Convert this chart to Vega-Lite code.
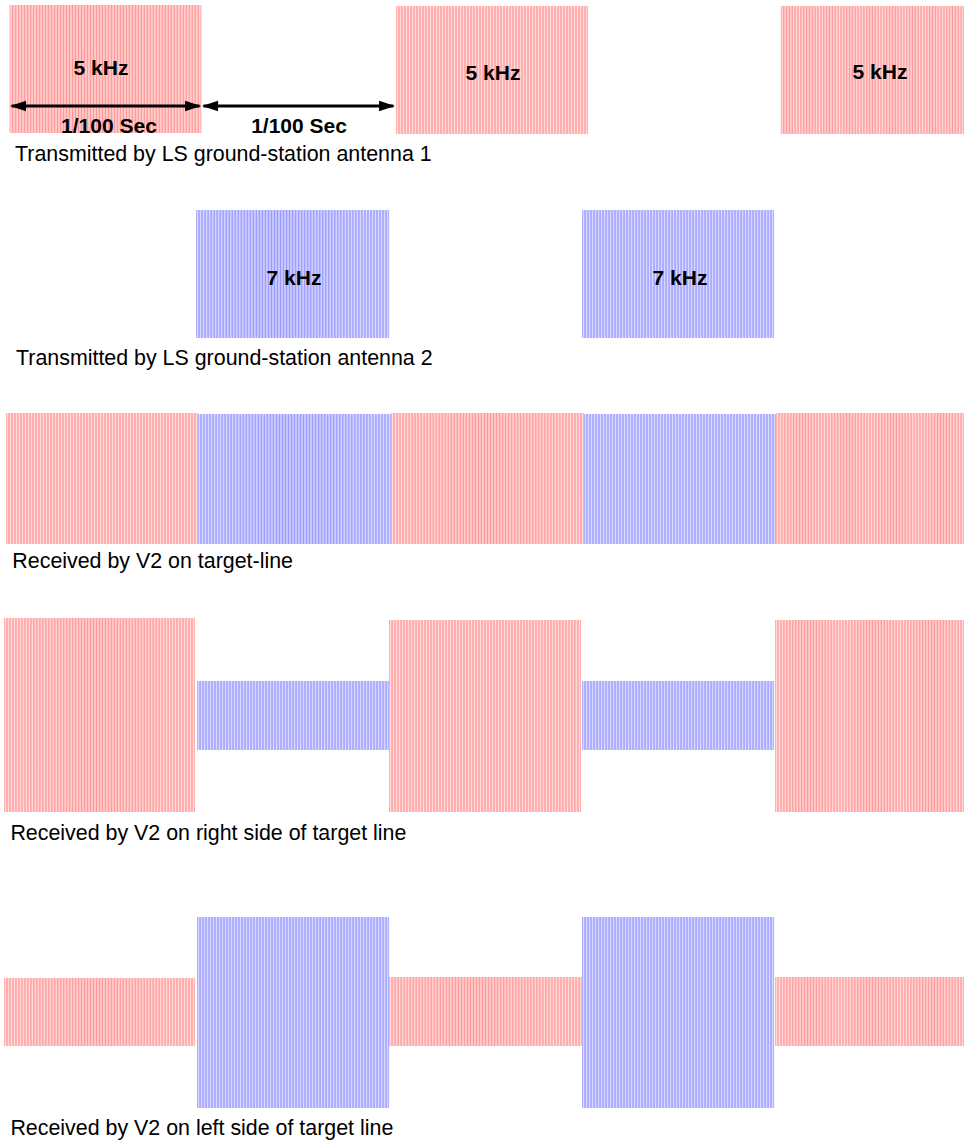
{
  "$schema": "https://vega.github.io/schema/vega-lite/v6.json",
  "width": 964,
  "height": 1141,
  "autosize": {"type": "fit", "contains": "padding"},
  "padding": 0,
  "background": "white",
  "config": {"view": {"stroke": null}},
  "datasets": {
    "bars": [
      {"row": 1, "freq": "5 kHz", "t0": 0.05, "t1": 1.044, "top": 5, "bottom": 133},
      {"row": 1, "freq": "5 kHz", "t0": 2.054, "t1": 3.05, "top": 6, "bottom": 134},
      {"row": 1, "freq": "5 kHz", "t0": 4.05, "t1": 5.0, "top": 6, "bottom": 134},
      {"row": 2, "freq": "7 kHz", "t0": 1.017, "t1": 2.018, "top": 210, "bottom": 338},
      {"row": 2, "freq": "7 kHz", "t0": 3.019, "t1": 4.015, "top": 210, "bottom": 338},
      {"row": 3, "freq": "5 kHz", "t0": 0.031, "t1": 1.027, "top": 413, "bottom": 544},
      {"row": 3, "freq": "7 kHz", "t0": 1.027, "t1": 2.028, "top": 414, "bottom": 544},
      {"row": 3, "freq": "5 kHz", "t0": 2.028, "t1": 3.029, "top": 413, "bottom": 544},
      {"row": 3, "freq": "7 kHz", "t0": 3.029, "t1": 4.025, "top": 414, "bottom": 544},
      {"row": 3, "freq": "5 kHz", "t0": 4.025, "t1": 5.0, "top": 413, "bottom": 544},
      {"row": 4, "freq": "5 kHz", "t0": 0.021, "t1": 1.011, "top": 618, "bottom": 812},
      {"row": 4, "freq": "7 kHz", "t0": 1.022, "t1": 2.018, "top": 681, "bottom": 750},
      {"row": 4, "freq": "5 kHz", "t0": 2.018, "t1": 3.013, "top": 620, "bottom": 812},
      {"row": 4, "freq": "7 kHz", "t0": 3.019, "t1": 4.015, "top": 681, "bottom": 750},
      {"row": 4, "freq": "5 kHz", "t0": 4.02, "t1": 5.0, "top": 620, "bottom": 812},
      {"row": 5, "freq": "5 kHz", "t0": 0.021, "t1": 1.011, "top": 978, "bottom": 1046},
      {"row": 5, "freq": "7 kHz", "t0": 1.022, "t1": 2.018, "top": 917, "bottom": 1108},
      {"row": 5, "freq": "5 kHz", "t0": 2.018, "t1": 3.019, "top": 977, "bottom": 1046},
      {"row": 5, "freq": "7 kHz", "t0": 3.019, "t1": 4.015, "top": 917, "bottom": 1108},
      {"row": 5, "freq": "5 kHz", "t0": 4.02, "t1": 5.0, "top": 977, "bottom": 1046}
    ],
    "captions": [
      {"text": "Transmitted by LS ground-station antenna 1", "t": 0.078, "y": 161},
      {"text": "Transmitted by LS ground-station antenna 2", "t": 0.083, "y": 365},
      {"text": "Received by V2 on target-line", "t": 0.064, "y": 568},
      {"text": "Received by V2 on right side of target line", "t": 0.054, "y": 840},
      {"text": "Received by V2 on left side of target line", "t": 0.054, "y": 1135}
    ],
    "tags": [
      {"text": "5 kHz", "t": 0.524, "y": 75},
      {"text": "5 kHz", "t": 2.557, "y": 80},
      {"text": "5 kHz", "t": 4.564, "y": 79},
      {"text": "7 kHz", "t": 1.525, "y": 285},
      {"text": "7 kHz", "t": 3.527, "y": 285},
      {"text": "1/100 Sec", "t": 0.565, "y": 133},
      {"text": "1/100 Sec", "t": 1.551, "y": 133}
    ],
    "spans": [
      {"t0": 0.06, "t1": 1.035, "y": 106},
      {"t0": 1.055, "t1": 2.04, "y": 106}
    ],
    "heads": [
      {"t": 0.052, "y": 106, "dir": "left"},
      {"t": 1.043, "y": 106, "dir": "right"},
      {"t": 1.048, "y": 106, "dir": "left"},
      {"t": 2.049, "y": 106, "dir": "right"}
    ]
  },
  "layer": [
    {
      "data": {"name": "bars"},
      "mark": {"type": "rect", "strokeWidth": 0},
      "encoding": {
        "x": {"field": "t0", "type": "quantitative", "scale": {"domain": [0, 5], "nice": false, "zero": false}, "axis": null},
        "x2": {"field": "t1"},
        "y": {"field": "top", "type": "quantitative", "scale": {"domain": [0, 1141], "nice": false, "zero": false, "reverse": true}, "axis": null},
        "y2": {"field": "bottom"},
        "color": {"field": "freq", "type": "nominal", "scale": {"domain": ["5 kHz", "7 kHz"], "range": ["#ff9999", "#9999ff"]}, "legend": null}
      }
    },
    {
      "data": {"name": "bars"},
      "mark": {
        "type": "rect",
        "strokeWidth": 0,
        "fill": {
          "gradient": "linear", "x1": 0, "y1": 0, "x2": 1, "y2": 0,
          "stops": [
            {"offset": 0, "color": "rgba(255,255,255,0)"},
            {"offset": 0.0078, "color": "rgba(255,255,255,0.65)"},
            {"offset": 0.0156, "color": "rgba(255,255,255,0)"},
            {"offset": 0.0234, "color": "rgba(255,255,255,0.65)"},
            {"offset": 0.0313, "color": "rgba(255,255,255,0)"},
            {"offset": 0.0391, "color": "rgba(255,255,255,0.65)"},
            {"offset": 0.0469, "color": "rgba(255,255,255,0)"},
            {"offset": 0.0547, "color": "rgba(255,255,255,0.65)"},
            {"offset": 0.0625, "color": "rgba(255,255,255,0)"},
            {"offset": 0.0703, "color": "rgba(255,255,255,0.65)"},
            {"offset": 0.0781, "color": "rgba(255,255,255,0)"},
            {"offset": 0.0859, "color": "rgba(255,255,255,0.65)"},
            {"offset": 0.0938, "color": "rgba(255,255,255,0)"},
            {"offset": 0.1016, "color": "rgba(255,255,255,0.65)"},
            {"offset": 0.1094, "color": "rgba(255,255,255,0)"},
            {"offset": 0.1172, "color": "rgba(255,255,255,0.65)"},
            {"offset": 0.125, "color": "rgba(255,255,255,0)"},
            {"offset": 0.1328, "color": "rgba(255,255,255,0.65)"},
            {"offset": 0.1406, "color": "rgba(255,255,255,0)"},
            {"offset": 0.1484, "color": "rgba(255,255,255,0.65)"},
            {"offset": 0.1563, "color": "rgba(255,255,255,0)"},
            {"offset": 0.1641, "color": "rgba(255,255,255,0.65)"},
            {"offset": 0.1719, "color": "rgba(255,255,255,0)"},
            {"offset": 0.1797, "color": "rgba(255,255,255,0.65)"},
            {"offset": 0.1875, "color": "rgba(255,255,255,0)"},
            {"offset": 0.1953, "color": "rgba(255,255,255,0.65)"},
            {"offset": 0.2031, "color": "rgba(255,255,255,0)"},
            {"offset": 0.2109, "color": "rgba(255,255,255,0.65)"},
            {"offset": 0.2188, "color": "rgba(255,255,255,0)"},
            {"offset": 0.2266, "color": "rgba(255,255,255,0.65)"},
            {"offset": 0.2344, "color": "rgba(255,255,255,0)"},
            {"offset": 0.2422, "color": "rgba(255,255,255,0.65)"},
            {"offset": 0.25, "color": "rgba(255,255,255,0)"},
            {"offset": 0.2578, "color": "rgba(255,255,255,0.65)"},
            {"offset": 0.2656, "color": "rgba(255,255,255,0)"},
            {"offset": 0.2734, "color": "rgba(255,255,255,0.65)"},
            {"offset": 0.2813, "color": "rgba(255,255,255,0)"},
            {"offset": 0.2891, "color": "rgba(255,255,255,0.65)"},
            {"offset": 0.2969, "color": "rgba(255,255,255,0)"},
            {"offset": 0.3047, "color": "rgba(255,255,255,0.65)"},
            {"offset": 0.3125, "color": "rgba(255,255,255,0)"},
            {"offset": 0.3203, "color": "rgba(255,255,255,0.65)"},
            {"offset": 0.3281, "color": "rgba(255,255,255,0)"},
            {"offset": 0.3359, "color": "rgba(255,255,255,0.65)"},
            {"offset": 0.3438, "color": "rgba(255,255,255,0)"},
            {"offset": 0.3516, "color": "rgba(255,255,255,0.65)"},
            {"offset": 0.3594, "color": "rgba(255,255,255,0)"},
            {"offset": 0.3672, "color": "rgba(255,255,255,0.65)"},
            {"offset": 0.375, "color": "rgba(255,255,255,0)"},
            {"offset": 0.3828, "color": "rgba(255,255,255,0.65)"},
            {"offset": 0.3906, "color": "rgba(255,255,255,0)"},
            {"offset": 0.3984, "color": "rgba(255,255,255,0.65)"},
            {"offset": 0.4063, "color": "rgba(255,255,255,0)"},
            {"offset": 0.4141, "color": "rgba(255,255,255,0.65)"},
            {"offset": 0.4219, "color": "rgba(255,255,255,0)"},
            {"offset": 0.4297, "color": "rgba(255,255,255,0.65)"},
            {"offset": 0.4375, "color": "rgba(255,255,255,0)"},
            {"offset": 0.4453, "color": "rgba(255,255,255,0.65)"},
            {"offset": 0.4531, "color": "rgba(255,255,255,0)"},
            {"offset": 0.4609, "color": "rgba(255,255,255,0.65)"},
            {"offset": 0.4688, "color": "rgba(255,255,255,0)"},
            {"offset": 0.4766, "color": "rgba(255,255,255,0.65)"},
            {"offset": 0.4844, "color": "rgba(255,255,255,0)"},
            {"offset": 0.4922, "color": "rgba(255,255,255,0.65)"},
            {"offset": 0.5, "color": "rgba(255,255,255,0)"},
            {"offset": 0.5078, "color": "rgba(255,255,255,0.65)"},
            {"offset": 0.5156, "color": "rgba(255,255,255,0)"},
            {"offset": 0.5234, "color": "rgba(255,255,255,0.65)"},
            {"offset": 0.5313, "color": "rgba(255,255,255,0)"},
            {"offset": 0.5391, "color": "rgba(255,255,255,0.65)"},
            {"offset": 0.5469, "color": "rgba(255,255,255,0)"},
            {"offset": 0.5547, "color": "rgba(255,255,255,0.65)"},
            {"offset": 0.5625, "color": "rgba(255,255,255,0)"},
            {"offset": 0.5703, "color": "rgba(255,255,255,0.65)"},
            {"offset": 0.5781, "color": "rgba(255,255,255,0)"},
            {"offset": 0.5859, "color": "rgba(255,255,255,0.65)"},
            {"offset": 0.5938, "color": "rgba(255,255,255,0)"},
            {"offset": 0.6016, "color": "rgba(255,255,255,0.65)"},
            {"offset": 0.6094, "color": "rgba(255,255,255,0)"},
            {"offset": 0.6172, "color": "rgba(255,255,255,0.65)"},
            {"offset": 0.625, "color": "rgba(255,255,255,0)"},
            {"offset": 0.6328, "color": "rgba(255,255,255,0.65)"},
            {"offset": 0.6406, "color": "rgba(255,255,255,0)"},
            {"offset": 0.6484, "color": "rgba(255,255,255,0.65)"},
            {"offset": 0.6563, "color": "rgba(255,255,255,0)"},
            {"offset": 0.6641, "color": "rgba(255,255,255,0.65)"},
            {"offset": 0.6719, "color": "rgba(255,255,255,0)"},
            {"offset": 0.6797, "color": "rgba(255,255,255,0.65)"},
            {"offset": 0.6875, "color": "rgba(255,255,255,0)"},
            {"offset": 0.6953, "color": "rgba(255,255,255,0.65)"},
            {"offset": 0.7031, "color": "rgba(255,255,255,0)"},
            {"offset": 0.7109, "color": "rgba(255,255,255,0.65)"},
            {"offset": 0.7188, "color": "rgba(255,255,255,0)"},
            {"offset": 0.7266, "color": "rgba(255,255,255,0.65)"},
            {"offset": 0.7344, "color": "rgba(255,255,255,0)"},
            {"offset": 0.7422, "color": "rgba(255,255,255,0.65)"},
            {"offset": 0.75, "color": "rgba(255,255,255,0)"},
            {"offset": 0.7578, "color": "rgba(255,255,255,0.65)"},
            {"offset": 0.7656, "color": "rgba(255,255,255,0)"},
            {"offset": 0.7734, "color": "rgba(255,255,255,0.65)"},
            {"offset": 0.7813, "color": "rgba(255,255,255,0)"},
            {"offset": 0.7891, "color": "rgba(255,255,255,0.65)"},
            {"offset": 0.7969, "color": "rgba(255,255,255,0)"},
            {"offset": 0.8047, "color": "rgba(255,255,255,0.65)"},
            {"offset": 0.8125, "color": "rgba(255,255,255,0)"},
            {"offset": 0.8203, "color": "rgba(255,255,255,0.65)"},
            {"offset": 0.8281, "color": "rgba(255,255,255,0)"},
            {"offset": 0.8359, "color": "rgba(255,255,255,0.65)"},
            {"offset": 0.8438, "color": "rgba(255,255,255,0)"},
            {"offset": 0.8516, "color": "rgba(255,255,255,0.65)"},
            {"offset": 0.8594, "color": "rgba(255,255,255,0)"},
            {"offset": 0.8672, "color": "rgba(255,255,255,0.65)"},
            {"offset": 0.875, "color": "rgba(255,255,255,0)"},
            {"offset": 0.8828, "color": "rgba(255,255,255,0.65)"},
            {"offset": 0.8906, "color": "rgba(255,255,255,0)"},
            {"offset": 0.8984, "color": "rgba(255,255,255,0.65)"},
            {"offset": 0.9063, "color": "rgba(255,255,255,0)"},
            {"offset": 0.9141, "color": "rgba(255,255,255,0.65)"},
            {"offset": 0.9219, "color": "rgba(255,255,255,0)"},
            {"offset": 0.9297, "color": "rgba(255,255,255,0.65)"},
            {"offset": 0.9375, "color": "rgba(255,255,255,0)"},
            {"offset": 0.9453, "color": "rgba(255,255,255,0.65)"},
            {"offset": 0.9531, "color": "rgba(255,255,255,0)"},
            {"offset": 0.9609, "color": "rgba(255,255,255,0.65)"},
            {"offset": 0.9688, "color": "rgba(255,255,255,0)"},
            {"offset": 0.9766, "color": "rgba(255,255,255,0.65)"},
            {"offset": 0.9844, "color": "rgba(255,255,255,0)"},
            {"offset": 0.9922, "color": "rgba(255,255,255,0.65)"},
            {"offset": 1, "color": "rgba(255,255,255,0)"}
          ]
        }
      },
      "encoding": {
        "x": {"field": "t0", "type": "quantitative"},
        "x2": {"field": "t1"},
        "y": {"field": "top", "type": "quantitative"},
        "y2": {"field": "bottom"}
      }
    },
    {
      "data": {"name": "spans"},
      "mark": {"type": "rule", "color": "black", "strokeWidth": 3},
      "encoding": {
        "x": {"field": "t0", "type": "quantitative"},
        "x2": {"field": "t1"},
        "y": {"field": "y", "type": "quantitative"}
      }
    },
    {
      "data": {"name": "heads"},
      "mark": {"type": "point", "filled": true, "color": "black", "opacity": 1, "size": 1024, "strokeWidth": 0},
      "encoding": {
        "x": {"field": "t", "type": "quantitative"},
        "y": {"field": "y", "type": "quantitative"},
        "shape": {"field": "dir", "type": "nominal", "scale": {"domain": ["left", "right"], "range": ["M0,0L1,-0.33L1,0.33Z", "M0,0L-1,-0.33L-1,0.33Z"]}, "legend": null}
      }
    },
    {
      "data": {"name": "captions"},
      "mark": {"type": "text", "align": "left", "baseline": "alphabetic", "font": "Liberation Sans", "fontSize": 21.4, "color": "black"},
      "encoding": {
        "x": {"field": "t", "type": "quantitative"},
        "y": {"field": "y", "type": "quantitative"},
        "text": {"field": "text"}
      }
    },
    {
      "data": {"name": "tags"},
      "mark": {"type": "text", "align": "center", "baseline": "alphabetic", "font": "Liberation Sans", "fontSize": 21, "fontWeight": "bold", "color": "black"},
      "encoding": {
        "x": {"field": "t", "type": "quantitative"},
        "y": {"field": "y", "type": "quantitative"},
        "text": {"field": "text"}
      }
    }
  ]
}
